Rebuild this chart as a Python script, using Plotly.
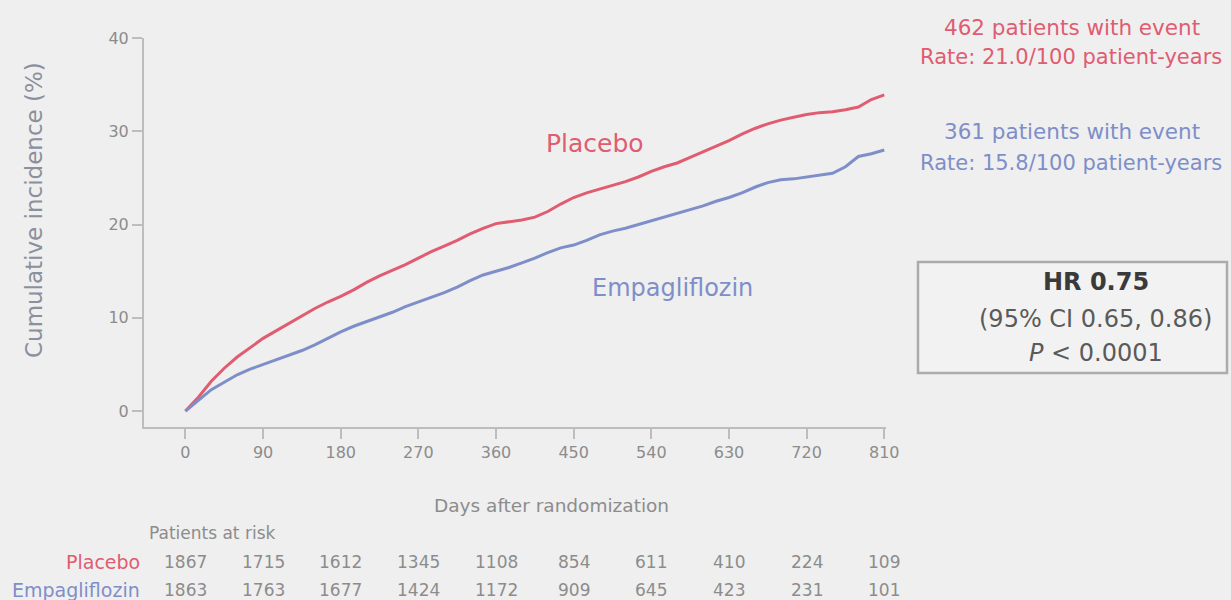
import plotly.graph_objects as go

# Cumulative incidence (%), sampled every 15 days
days = list(range(0, 811, 15))
placebo_pct = [0.0, 1.5, 3.2, 4.6, 5.8, 6.8, 7.8, 8.6, 9.4, 10.2, 11.0, 11.7, 12.3, 13.0,
               13.8, 14.5, 15.1, 15.7, 16.4, 17.1, 17.7, 18.3, 19.0, 19.6, 20.1, 20.3,
               20.5, 20.8, 21.4, 22.2, 22.9, 23.4, 23.8, 24.2, 24.6, 25.1, 25.7, 26.2,
               26.6, 27.2, 27.8, 28.4, 29.0, 29.7, 30.3, 30.8, 31.2, 31.5, 31.8, 32.0,
               32.1, 32.3, 32.6, 33.4, 33.9]
empa_pct = [0.0, 1.2, 2.3, 3.1, 3.9, 4.5, 5.0, 5.5, 6.0, 6.5, 7.1, 7.8, 8.5, 9.1,
            9.6, 10.1, 10.6, 11.2, 11.7, 12.2, 12.7, 13.3, 14.0, 14.6, 15.0, 15.4,
            15.9, 16.4, 17.0, 17.5, 17.8, 18.3, 18.9, 19.3, 19.6, 20.0, 20.4, 20.8,
            21.2, 21.6, 22.0, 22.5, 22.9, 23.4, 24.0, 24.5, 24.8, 24.9, 25.1, 25.3,
            25.5, 26.2, 27.3, 27.6, 28.0]

x_ticks = [0, 90, 180, 270, 360, 450, 540, 630, 720, 810]
y_ticks = [0, 10, 20, 30, 40]

risk_placebo = [1867, 1715, 1612, 1345, 1108, 854, 611, 410, 224, 109]
risk_empa = [1863, 1763, 1677, 1424, 1172, 909, 645, 423, 231, 101]

RED = "#e05c70"
BLUE = "#7e8ec8"
GREY = "#8c8c8c"
FONT = "DejaVu Sans"

W, H = 1231, 600
ML, MR, MT, MB = 144, 345, 38, 173
PW, PH = W - ML - MR, H - MT - MB


def px(x):
    return (x - ML) / PW


def py(y):
    return (H - MB - y) / PH


fig = go.Figure()
fig.add_trace(go.Scatter(x=days, y=placebo_pct, mode="lines",
                         line=dict(color=RED, width=3), name="Placebo"))
fig.add_trace(go.Scatter(x=days, y=empa_pct, mode="lines",
                         line=dict(color=BLUE, width=3), name="Empagliflozin"))

ann = []


def text(x, y, s, size, color, xanchor="center", xref="paper", **kw):
    ann.append(dict(x=x, y=y, xref=xref, yref="paper", text=s, showarrow=False,
                    xanchor=xanchor, yanchor="middle",
                    font=dict(family=FONT, size=size, color=color), **kw))


# curve labels
text(px(595), py(143), "Placebo", 25, RED)
text(px(672), py(288), "Empagliflozin", 24, BLUE)

# event summaries
text(px(1072), py(27), "462 patients with event", 21.5, RED)
text(px(1071), py(57), "Rate: 21.0/100 patient-years", 21, RED)
text(px(1072), py(131), "361 patients with event", 21.5, BLUE)
text(px(1071), py(163), "Rate: 15.8/100 patient-years", 21, BLUE)

# hazard ratio box
text(px(1096), py(282), "<b>HR 0.75</b>", 24, "#3a3a3a")
text(px(1095), py(319), "(95% CI 0.65, 0.86)", 24, "#5a5a5a")
text(px(1096), py(353), "<i>P</i> < 0.0001", 24, "#5a5a5a")

# axis titles
text(px(34), py(210), "Cumulative incidence (%)", 23, "#8a909c", textangle=-90)
text(px(551), py(505), "Days after randomization", 18.5, GREY)

# number-at-risk table
text(px(147), py(533), "Patients at risk", 17, GREY, xanchor="left")
text(px(142), py(562), "Placebo", 19, RED, xanchor="right")
text(px(142), py(590), "Empagliflozin", 19, BLUE, xanchor="right")
for d, a, b in zip(x_ticks, risk_placebo, risk_empa):
    text(d, py(562), str(a), 17, GREY, xref="x")
    text(d, py(590), str(b), 17, GREY, xref="x")

fig.update_layout(
    width=W, height=H, autosize=False,
    margin=dict(l=ML, r=MR, t=MT, b=MB),
    paper_bgcolor="#efefef", plot_bgcolor="#efefef",
    showlegend=False,
    font=dict(family=FONT, size=16, color=GREY),
    annotations=ann,
    shapes=[dict(type="rect", xref="paper", yref="paper",
                 x0=px(918), x1=px(1227), y0=py(373), y1=py(262),
                 line=dict(color="#ababab", width=2.5), fillcolor="#f2f2f2", layer="below")],
    xaxis=dict(range=[-48, 812], tickvals=x_ticks, showgrid=False, zeroline=False,
               showline=True, linecolor="#bdbdbd", linewidth=2,
               ticks="outside", ticklen=10, tickwidth=2, tickcolor="#bdbdbd",
               tickfont=dict(family=FONT, size=16, color=GREY), fixedrange=True),
    yaxis=dict(range=[-1.7, 40], tickvals=y_ticks, showgrid=False, zeroline=False,
               showline=True, linecolor="#bdbdbd", linewidth=2,
               ticks="outside", ticklen=10, tickwidth=2, tickcolor="#bdbdbd",
               tickfont=dict(family=FONT, size=16, color=GREY), fixedrange=True),
)

fig.write_html("out.html")
